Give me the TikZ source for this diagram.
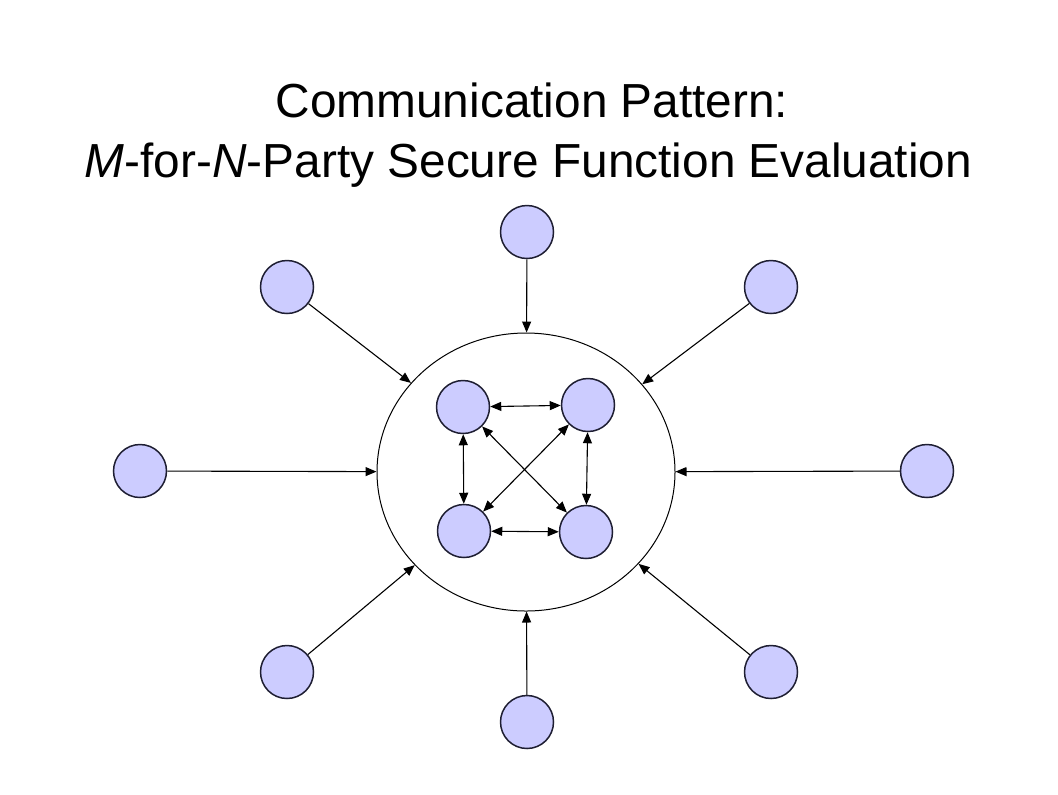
\documentclass[tikz,border=0pt]{standalone}
\usepackage{fontspec}
\setmainfont{Liberation Sans}
\usetikzlibrary{arrows.meta,shapes.geometric}
\definecolor{partyfill}{RGB}{204,204,255}
\definecolor{partyline}{RGB}{30,30,50}

\begin{document}
\begin{tikzpicture}[x=0.5pt, y=-0.5pt,
    party/.style={circle, draw=partyline, line width=0.75pt, fill=partyfill, minimum size=26.5pt, inner sep=0pt},
    feed/.style={line width=0.55pt, -{Triangle[length=5.5pt,width=4.5pt]}},
    duplex/.style={line width=0.55pt, {Triangle[length=5.5pt,width=4.5pt]}-{Triangle[length=5.5pt,width=4.5pt]}},
    heading/.style={anchor=base, font=\fontsize{23.9}{30}\selectfont}]
        \useasboundingbox (0,0) rectangle (1058,794);

        % Title
        \node[heading] (title-1) at (532,117) {Communication Pattern:};
        \node[heading] (title-2) at (528.5,177) {\textit{M}-for-\textit{N}-Party Secure Function Evaluation};

        % Computing group (M parties)
        \node[ellipse, draw, line width=0.5pt, minimum width=149pt, minimum height=139pt, inner sep=0pt] (hub) at (526,472) {};
        \foreach \i/\x/\y in {1/463/407, 2/588/405, 3/464/531, 4/586/532} {
          \node[party] (m-\i) at (\x,\y) {};
        }

        % Links inside the group
        \foreach \a/\b in {1/2, 3/4, 1/3, 2/4, 1/4, 2/3} {
          \draw[duplex] (m-\a) -- (m-\b);
        }

        % Input parties (N)
        \foreach \i/\x/\y in {1/527/232, 2/771/287, 3/927/471, 4/771/672, 5/527/722, 6/287/672, 7/140/471, 8/287/287} {
          \node[party] (n-\i) at (\x,\y) {};
        }

        % Inputs into the group
        \foreach \i in {1,...,8} {
          \draw[feed] (n-\i) -- (hub);
        }
      \end{tikzpicture}
\end{document}
